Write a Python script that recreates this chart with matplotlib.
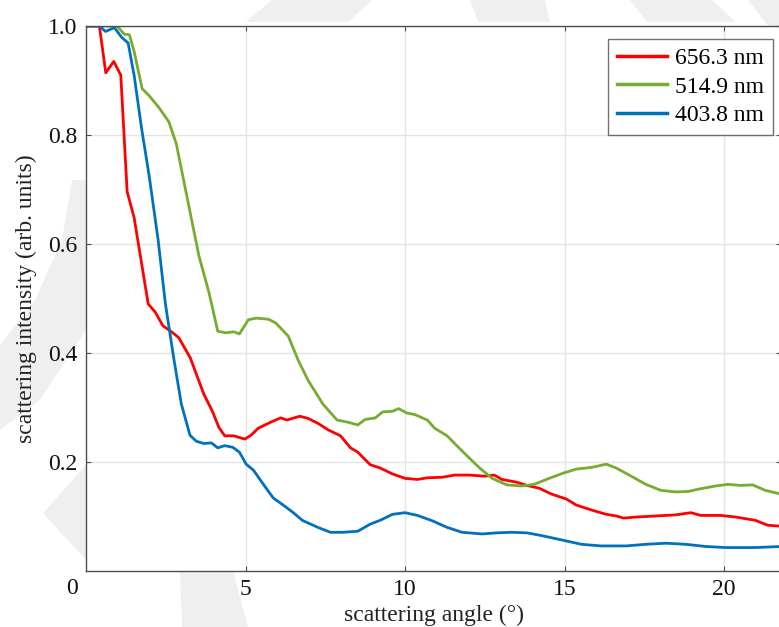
import matplotlib
matplotlib.use("Agg")
import matplotlib.pyplot as plt
from matplotlib.patches import Polygon

# ---------------- data ----------------
x_red = [0.0, 0.42, 0.62, 0.87, 1.09, 1.29, 1.51, 1.95, 2.17, 2.41, 2.68, 2.91, 3.27, 3.69, 3.97,
         4.16, 4.35, 4.63, 4.98, 5.17, 5.40, 5.79, 6.10, 6.30, 6.70, 6.96, 7.27, 7.59, 7.98, 8.29,
         8.52, 8.91, 9.22, 9.61, 10.0, 10.39, 10.70, 11.17, 11.56, 12.02, 12.49, 12.80, 13.04,
         13.50, 13.82, 14.20, 14.60, 15.06, 15.37, 15.84, 16.31, 16.62, 16.85, 17.24, 17.87,
         18.49, 18.96, 19.27, 19.89, 20.36, 20.98, 21.37, 21.80]
y_red = [1.0, 1.0, 0.914, 0.935, 0.91, 0.696, 0.648, 0.49, 0.475, 0.45, 0.439, 0.428, 0.391, 0.325,
         0.292, 0.264, 0.248, 0.248, 0.242, 0.249, 0.262, 0.273, 0.281, 0.277, 0.284, 0.28, 0.271,
         0.259, 0.248, 0.226, 0.218, 0.195, 0.189, 0.178, 0.17, 0.168, 0.171, 0.172, 0.176, 0.176,
         0.174, 0.176, 0.168, 0.163, 0.157, 0.152, 0.141, 0.132, 0.121, 0.112, 0.104, 0.101, 0.097,
         0.099, 0.101, 0.103, 0.107, 0.102, 0.102, 0.099, 0.093, 0.084, 0.082]

x_green = [0.0, 0.60, 0.97, 1.20, 1.36, 1.51, 1.76, 1.98, 2.29, 2.60, 2.83, 3.54, 3.85, 4.13, 4.39,
           4.63, 4.81, 5.09, 5.33, 5.72, 5.95, 6.34, 6.65, 6.96, 7.43, 7.87, 8.21, 8.52, 8.75,
           9.07, 9.30, 9.61, 9.80, 10.05, 10.31, 10.70, 10.93, 11.32, 11.64, 12.02, 12.34, 12.73,
           13.19, 13.66, 14.05, 14.52, 14.98, 15.37, 15.84, 16.31, 16.62, 17.09, 17.55, 18.02,
           18.49, 18.88, 19.27, 19.74, 20.12, 20.51, 20.90, 21.29, 21.80]
y_green = [1.0, 1.0, 1.0, 0.985, 0.984, 0.953, 0.885, 0.872, 0.85, 0.824, 0.784, 0.578, 0.512,
           0.44, 0.437, 0.439, 0.435, 0.461, 0.464, 0.462, 0.455, 0.431, 0.387, 0.35, 0.306, 0.277,
           0.273, 0.268, 0.278, 0.281, 0.292, 0.293, 0.298, 0.29, 0.287, 0.277, 0.262, 0.248, 0.229,
           0.207, 0.189, 0.17, 0.158, 0.156, 0.159, 0.17, 0.18, 0.187, 0.19, 0.196, 0.189, 0.174,
           0.159, 0.148, 0.145, 0.146, 0.151, 0.156, 0.159, 0.157, 0.158, 0.148, 0.141]

x_blue = [0.0, 0.42, 0.61, 0.89, 1.12, 1.32, 1.51, 1.74, 1.98, 2.26, 2.49, 2.76, 2.99, 3.26, 3.46,
          3.69, 3.93, 4.13, 4.35, 4.60, 4.81, 5.02, 5.25, 5.56, 5.87, 6.18, 6.50, 6.78, 7.27,
          7.66, 8.05, 8.52, 8.91, 9.22, 9.61, 10.0, 10.39, 10.86, 11.32, 11.79, 12.41, 12.88,
          13.35, 13.82, 14.28, 14.91, 15.53, 16.15, 16.93, 17.55, 18.18, 18.80, 19.42, 20.05,
          20.98, 21.80]
y_blue = [1.0, 1.0, 0.99, 0.997, 0.979, 0.969, 0.909, 0.813, 0.725, 0.608, 0.49, 0.387, 0.306,
          0.249, 0.238, 0.234, 0.235, 0.226, 0.23, 0.227, 0.218, 0.196, 0.185, 0.159, 0.134,
          0.121, 0.107, 0.093, 0.08, 0.071, 0.071, 0.073, 0.086, 0.093, 0.104, 0.107, 0.102,
          0.092, 0.08, 0.071, 0.068, 0.07, 0.071, 0.07, 0.065, 0.057, 0.049, 0.046, 0.046, 0.049,
          0.051, 0.049, 0.045, 0.043, 0.043, 0.045]

series_labels = ["656.3 nm", "514.9 nm", "403.8 nm"]
series_colors = ["#ff0000", "#77ac30", "#0072bd"]
xtick_vals = [5, 10, 15, 20]
ytick_vals = [0.2, 0.4, 0.6, 0.8, 1.0]
ytick_labels = ["0.2", "0.4", "0.6", "0.8", "1.0"]

# ---------------- figure ----------------
W, H = 779, 627
plt.rcParams["font.family"] = ["Liberation Serif", "DejaVu Serif"]
fig = plt.figure(figsize=(W / 100, H / 100), dpi=100)
fig.patch.set_facecolor("white")

def fpoly(pts, color="#efefef"):
    p = Polygon([(x / W, 1 - y / H) for x, y in pts], closed=True,
                transform=fig.transFigure, facecolor=color, edgecolor="none", zorder=0)
    fig.patches.append(p)

# faint watermark shapes (behind the axes)
fpoly([(246, 22), (348, 22), (372, 0), (272, 0)])
fpoly([(478, 22), (550, 22), (545, 0), (470, 0)])
fpoly([(647, 22), (736, 22), (712, 0), (630, 0)])
fpoly([(748, 0), (779, 0), (779, 40)])
fpoly([(72, 180), (86, 180), (86, 330), (40, 400), (0, 430), (0, 345), (35, 300), (62, 240)])
fpoly([(86, 465), (43, 513), (86, 560)])
fpoly([(180, 571), (233, 571), (248, 627), (182, 627)])

ax = fig.add_axes([86 / W, (H - 571) / H, (781 - 86) / W, 545 / H])
ax.set_facecolor("white")
ax.set_zorder(1)

for xs, ys, lab, col in zip([x_red, x_green, x_blue], [y_red, y_green, y_blue],
                            series_labels, series_colors):
    ax.plot(xs, ys, color=col, lw=2.0, label=lab, solid_joinstyle="round")

ax.set_xlim(0, 695 / 31.9)
ax.set_ylim(0, 1.0)
ax.set_xticks(xtick_vals)
ax.set_xticklabels([str(v) for v in xtick_vals])
ax.set_yticks(ytick_vals)
ax.set_yticklabels(ytick_labels)
ax.grid(True, color="#e4e4e4", lw=1.0)
ax.set_axisbelow(True)
for s in ax.spines.values():
    s.set_color("#4d4d4d")
    s.set_linewidth(1.0)
ax.tick_params(direction="in", length=3.5, width=0.8, color="#4d4d4d",
               top=True, right=True, labelsize=17, labelcolor="#111111")
ax.tick_params(axis="x", pad=6)
ax.tick_params(axis="y", pad=6)

fig.text(72 / W, 1 - 588 / H, "0", ha="center", va="center", fontsize=17, color="#111111")

ax.set_xlabel("scattering angle (°)", fontsize=17, color="#222222", labelpad=3)
ax.set_ylabel("scattering intensity (arb. units)", fontsize=17, color="#222222", labelpad=8)

leg = ax.legend(loc="upper right", bbox_to_anchor=(773 / W, 1 - 39 / H),
                bbox_transform=fig.transFigure, borderaxespad=0, fontsize=17,
                frameon=True, fancybox=False, handlelength=2.1, handletextpad=0.35,
                labelspacing=0.28, borderpad=0.38)
leg.get_frame().set_edgecolor("#4d4d4d")
leg.get_frame().set_linewidth(1.0)
for line in leg.get_lines():
    line.set_linewidth(2.5)

fig.savefig("out.png", dpi=100)
